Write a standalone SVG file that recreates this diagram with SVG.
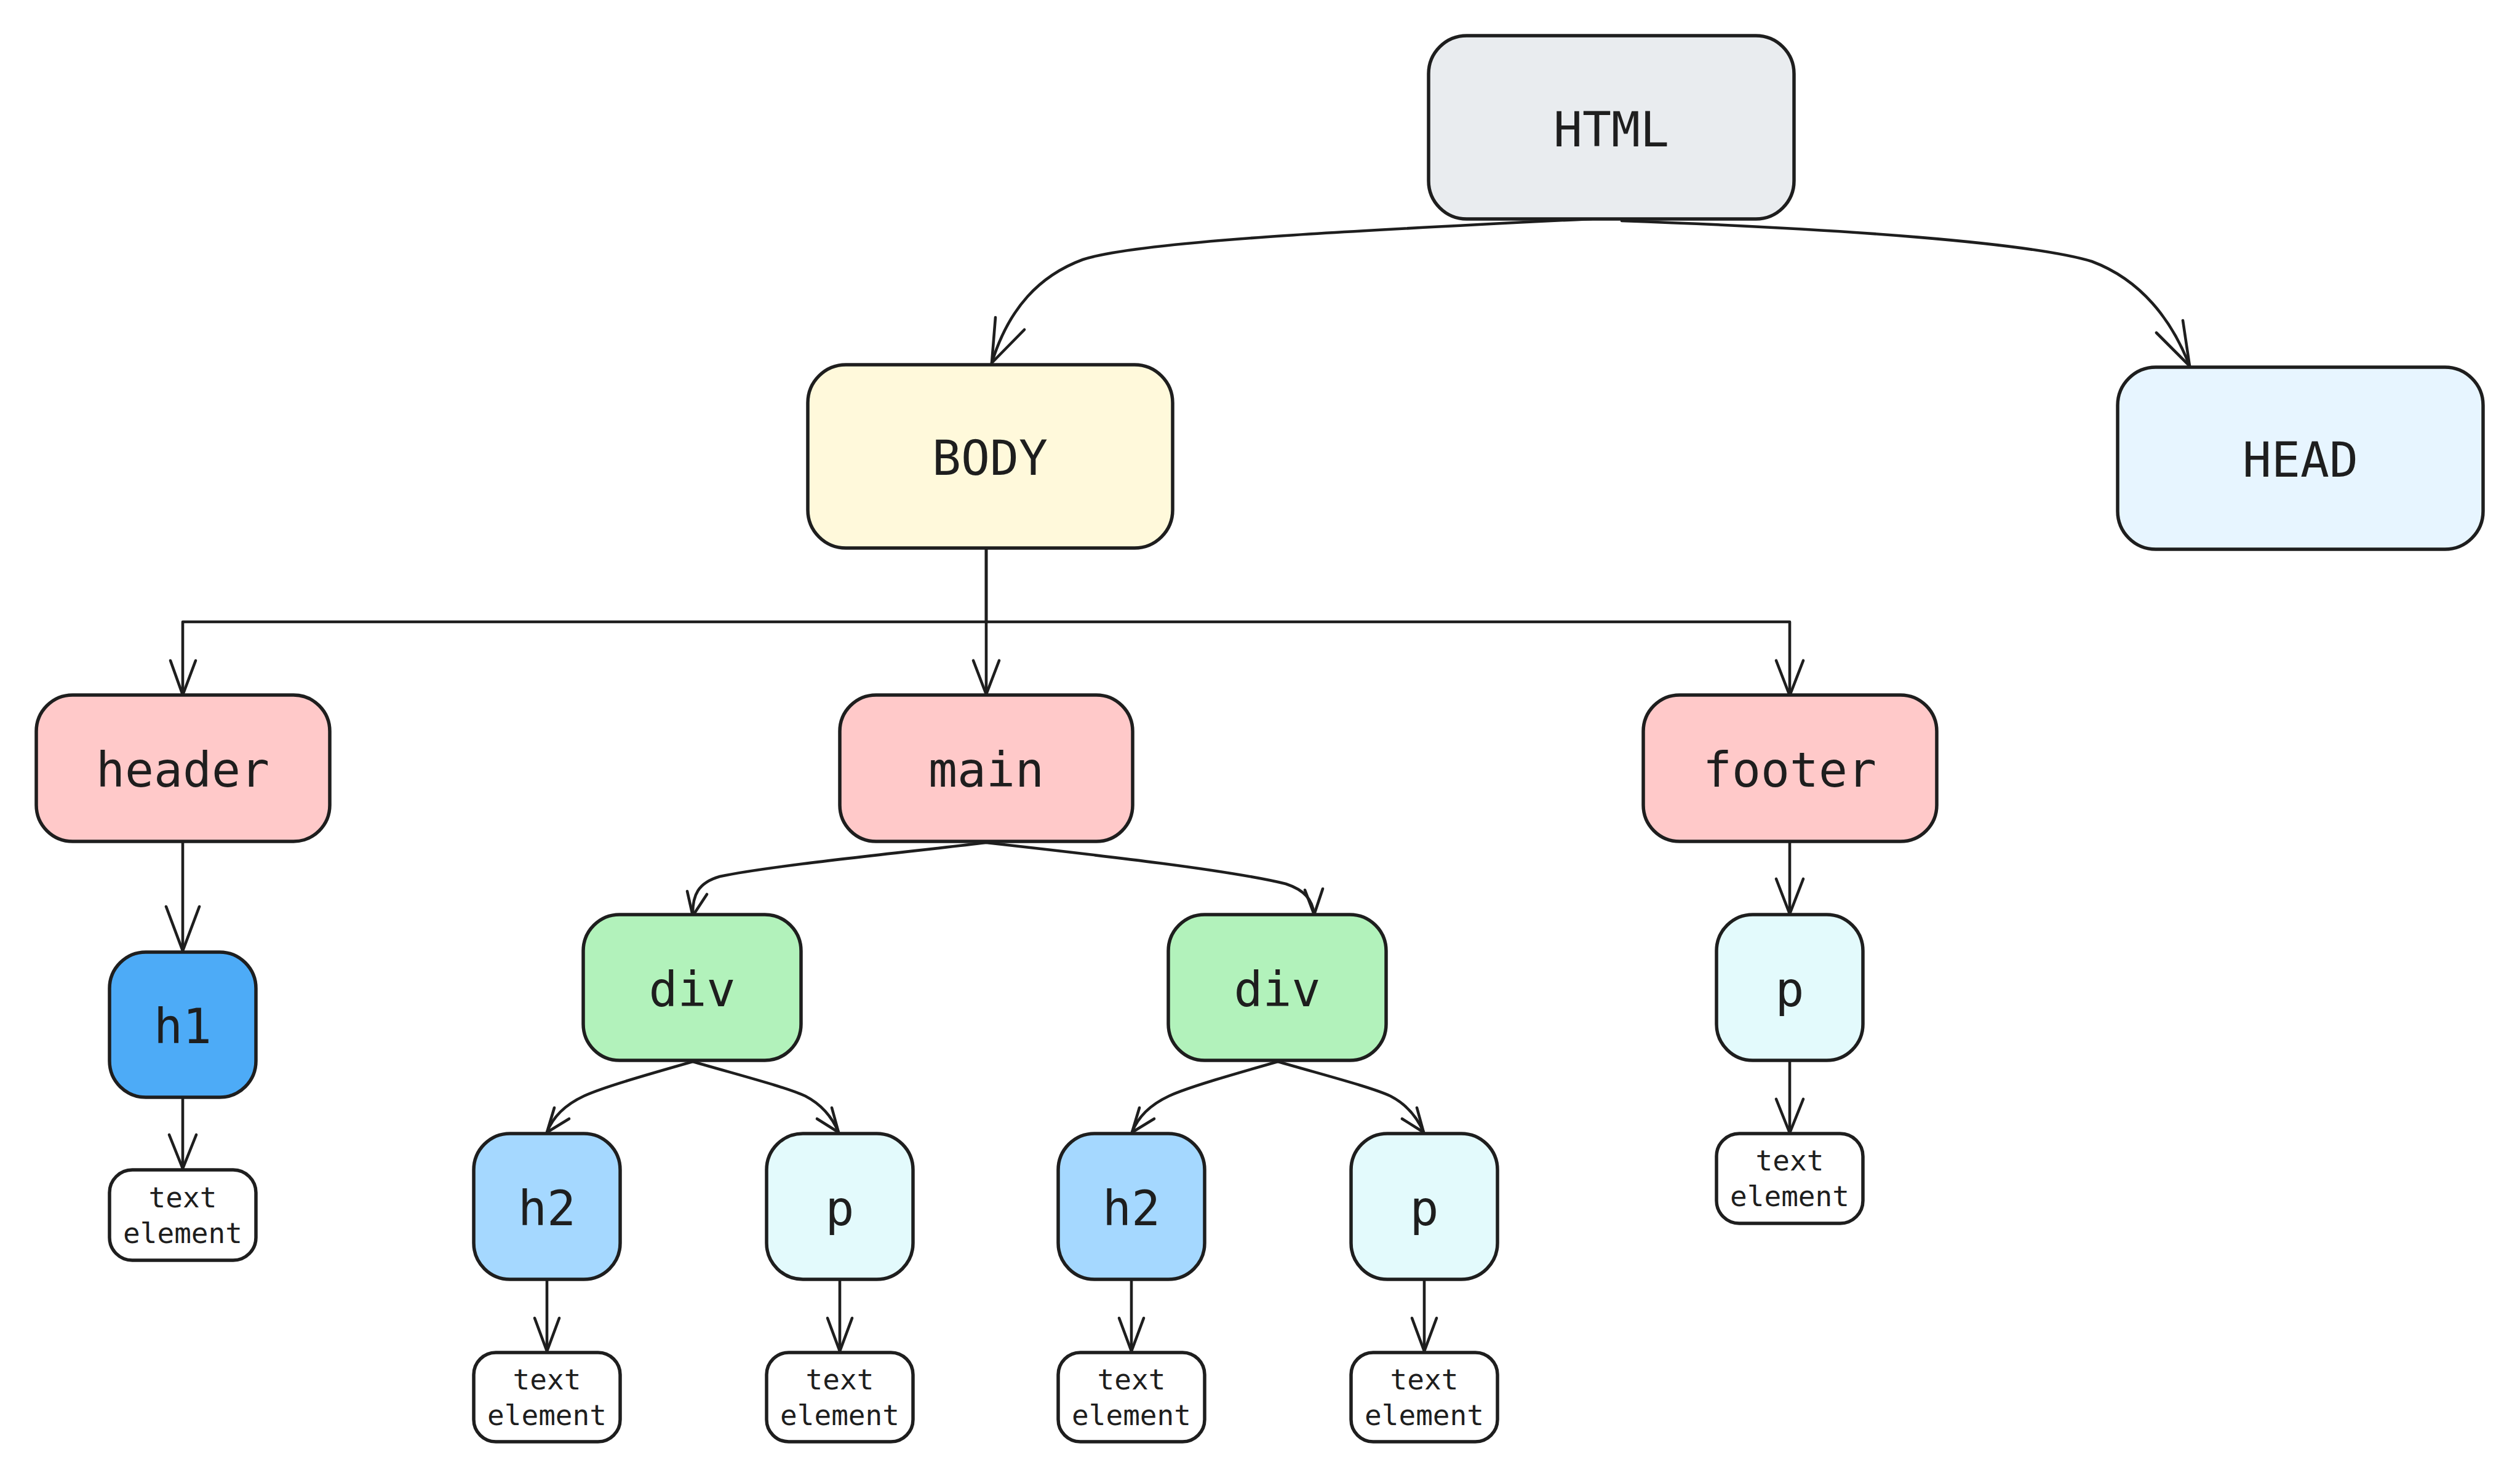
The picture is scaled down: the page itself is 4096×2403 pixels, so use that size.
<svg xmlns="http://www.w3.org/2000/svg" width="4096" height="2403" viewBox="0 0 4096 2403">
<style>
.n rect{stroke:#1e1e1e;stroke-width:5.5}
.l{font-family:"DejaVu Sans Mono","Liberation Mono",monospace;font-size:78px;fill:#1e1e1e;text-anchor:middle}
.s{font-size:46px}
.e{fill:none;stroke:#1e1e1e;stroke-width:4.6;stroke-linecap:round;stroke-linejoin:round}
</style>
<rect width="4096" height="2403" fill="#ffffff"/>
<g id="connectors">
<path class="e" d="M2603 355 C2200 375 1850 392 1760 422 C1690 448 1640 500 1612 590"/>
<path class="e" d="M1618 516 L1612 590 L1665 536"/>
<path class="e" d="M2636 359 C3000 372 3300 395 3400 425 C3480 455 3530 520 3559 595"/>
<path class="e" d="M3505 541 L3559 595 L3548 521"/>
<path class="e" d="M1603 891 V1011 H297 V1130"/>
<path class="e" d="M277 1074 L297 1130 L318 1074"/>
<path class="e" d="M1603 891 V1129"/>
<path class="e" d="M1582 1074 L1603 1129 L1624 1074"/>
<path class="e" d="M1603 1011 H2909 V1131"/>
<path class="e" d="M2887 1074 L2909 1131 L2931 1074"/>
<path class="e" d="M297 1368 V1546"/>
<path class="e" d="M270 1474 L297 1546 L324 1474"/>
<path class="e" d="M297 1784 V1900"/>
<path class="e" d="M275 1845 L297 1900 L319 1845"/>
<path class="e" d="M2909 1368 V1486"/>
<path class="e" d="M2887 1429 L2909 1486 L2931 1429"/>
<path class="e" d="M2909 1724 V1842"/>
<path class="e" d="M2887 1787 L2909 1842 L2931 1787"/>
<path class="e" d="M1603 1370 C1450 1388 1250 1408 1170 1425 C1135 1435 1125 1455 1126 1489"/>
<path class="e" d="M1117 1449 L1126 1489 L1149 1454"/>
<path class="e" d="M1603 1370 C1800 1392 2000 1415 2090 1437 C2120 1447 2133 1462 2136 1487"/>
<path class="e" d="M2121 1447 L2136 1487 L2150 1445"/>
<path class="e" d="M1126 1726 C1049 1748 979 1768 949 1782 C919 1796 899 1815 889 1841"/>
<path class="e" d="M901 1801 L889 1841 L925 1819"/>
<path class="e" d="M1126 1726 C1209 1750 1279 1768 1309 1782 C1334 1795 1352 1815 1363 1841"/>
<path class="e" d="M1352 1801 L1363 1841 L1328 1819"/>
<path class="e" d="M2077 1726 C2000 1748 1930 1768 1900 1782 C1870 1796 1850 1815 1840 1841"/>
<path class="e" d="M1852 1801 L1840 1841 L1876 1819"/>
<path class="e" d="M2077 1726 C2160 1750 2230 1768 2260 1782 C2285 1795 2303 1815 2314 1841"/>
<path class="e" d="M2303 1801 L2314 1841 L2279 1819"/>
<path class="e" d="M889 2080 V2197"/>
<path class="e" d="M869 2143 L889 2197 L909 2143"/>
<path class="e" d="M1365 2080 V2197"/>
<path class="e" d="M1345 2143 L1365 2197 L1385 2143"/>
<path class="e" d="M1839 2080 V2197"/>
<path class="e" d="M1819 2143 L1839 2197 L1859 2143"/>
<path class="e" d="M2315 2080 V2197"/>
<path class="e" d="M2295 2143 L2315 2197 L2335 2143"/>
</g>
<g id="node-html" class="n"><rect x="2322" y="58" width="594" height="298" rx="62" fill="#e9ecef"/><text class="l" x="2619" y="238">HTML</text></g>
<g id="node-body" class="n"><rect x="1313" y="593" width="593" height="298" rx="62" fill="#fff9db"/><text class="l" x="1609" y="772">BODY</text></g>
<g id="node-head" class="n"><rect x="3442" y="597" width="594" height="296" rx="62" fill="#e7f5ff"/><text class="l" x="3739" y="775">HEAD</text></g>
<g id="node-header" class="n"><rect x="59" y="1130" width="477" height="238" rx="59" fill="#ffc9c9"/><text class="l" x="297" y="1279">header</text></g>
<g id="node-main" class="n"><rect x="1365" y="1130" width="476" height="238" rx="59" fill="#ffc9c9"/><text class="l" x="1603" y="1279">main</text></g>
<g id="node-footer" class="n"><rect x="2671" y="1130" width="477" height="238" rx="59" fill="#ffc9c9"/><text class="l" x="2909" y="1279">footer</text></g>
<g id="node-h1" class="n"><rect x="178" y="1548" width="238" height="236" rx="59" fill="#4dabf7"/><text class="l" x="297" y="1696">h1</text></g>
<g id="node-div1" class="n"><rect x="948" y="1487" width="354" height="237" rx="59" fill="#b2f2bb"/><text class="l" x="1125" y="1636">div</text></g>
<g id="node-div2" class="n"><rect x="1899" y="1487" width="354" height="237" rx="59" fill="#b2f2bb"/><text class="l" x="2076" y="1636">div</text></g>
<g id="node-p-footer" class="n"><rect x="2790" y="1487" width="238" height="237" rx="59" fill="#e3fafc"/><text class="l" x="2909" y="1636">p</text></g>
<g id="node-h2a" class="n"><rect x="770" y="1843" width="238" height="237" rx="59" fill="#a5d8ff"/><text class="l" x="889" y="1992">h2</text></g>
<g id="node-pa" class="n"><rect x="1246" y="1843" width="238" height="237" rx="59" fill="#e3fafc"/><text class="l" x="1365" y="1992">p</text></g>
<g id="node-h2b" class="n"><rect x="1720" y="1843" width="238" height="237" rx="59" fill="#a5d8ff"/><text class="l" x="1839" y="1992">h2</text></g>
<g id="node-pb" class="n"><rect x="2196" y="1843" width="238" height="237" rx="59" fill="#e3fafc"/><text class="l" x="2315" y="1992">p</text></g>
<g id="node-text-h1" class="n"><rect x="178" y="1902" width="238" height="147" rx="37" fill="#ffffff"/><text class="l s" x="297"><tspan x="297" y="1963">text</tspan><tspan x="297" y="2021">element</tspan></text></g>
<g id="node-text-footer" class="n"><rect x="2790" y="1843" width="238" height="146" rx="37" fill="#ffffff"/><text class="l s" x="2909"><tspan x="2909" y="1903">text</tspan><tspan x="2909" y="1961">element</tspan></text></g>
<g id="node-text-h2a" class="n"><rect x="770" y="2199" width="238" height="145" rx="36" fill="#ffffff"/><text class="l s" x="889"><tspan x="889" y="2259">text</tspan><tspan x="889" y="2317">element</tspan></text></g>
<g id="node-text-pa" class="n"><rect x="1246" y="2199" width="238" height="145" rx="36" fill="#ffffff"/><text class="l s" x="1365"><tspan x="1365" y="2259">text</tspan><tspan x="1365" y="2317">element</tspan></text></g>
<g id="node-text-h2b" class="n"><rect x="1720" y="2199" width="238" height="145" rx="36" fill="#ffffff"/><text class="l s" x="1839"><tspan x="1839" y="2259">text</tspan><tspan x="1839" y="2317">element</tspan></text></g>
<g id="node-text-pb" class="n"><rect x="2196" y="2199" width="238" height="145" rx="36" fill="#ffffff"/><text class="l s" x="2315"><tspan x="2315" y="2259">text</tspan><tspan x="2315" y="2317">element</tspan></text></g>
</svg>
